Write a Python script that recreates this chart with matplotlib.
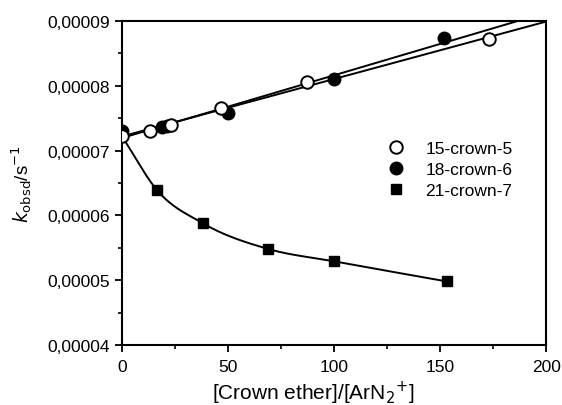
import numpy as np
import matplotlib.pyplot as plt
from matplotlib.ticker import FuncFormatter, MultipleLocator

# values
crown5_x = [0, 13, 23, 46.5, 87, 173]
crown5_y = [7.22e-5, 7.30e-5, 7.40e-5, 7.65e-5, 8.05e-5, 8.72e-5]

crown6_x = [0, 19, 21, 50, 100, 152]
crown6_y = [7.30e-5, 7.37e-5, 7.38e-5, 7.58e-5, 8.10e-5, 8.74e-5]

crown7_x = [0, 16.5, 38, 69, 100, 153]
crown7_y = [7.22e-5, 6.39e-5, 5.88e-5, 5.48e-5, 5.29e-5, 4.98e-5]

x_ticks = [0, 50, 100, 150, 200]
y_ticks = [4e-5, 5e-5, 6e-5, 7e-5, 8e-5, 9e-5]

plt.rcParams['font.family'] = ['Liberation Sans', 'DejaVu Sans']

fig = plt.figure(figsize=(5.62, 4.06), dpi=100)
ax = fig.add_axes([0.217, 0.148, 0.755, 0.798])


def smooth(xs, ys, n=200):
    # hermite curve through the points
    xs = np.asarray(xs, float)
    ys = np.asarray(ys, float)
    m = np.gradient(ys, xs)
    out_x, out_y = [], []
    for i in range(len(xs) - 1):
        h = xs[i + 1] - xs[i]
        t = np.linspace(0, 1, n // len(xs))
        h00 = 2 * t**3 - 3 * t**2 + 1
        h10 = t**3 - 2 * t**2 + t
        h01 = -2 * t**3 + 3 * t**2
        h11 = t**3 - t**2
        out_x.extend(xs[i] + t * h)
        out_y.extend(h00 * ys[i] + h10 * h * m[i] + h01 * ys[i + 1] + h11 * h * m[i + 1])
    return out_x, out_y


# fitted lines for 15-crown-5 and 18-crown-6
lx = np.array([0, 200])
for xs, ys in [(crown5_x, crown5_y), (crown6_x, crown6_y)]:
    k, b = np.polyfit(xs, ys, 1)
    ax.plot(lx, k * lx + b, color='black', lw=1.4, zorder=2)

cx, cy = smooth(crown7_x, crown7_y)
ax.plot(cx, cy, color='black', lw=1.4, zorder=2)

ax.plot(crown7_x[1:], crown7_y[1:], 's', color='black', ms=6.5, ls='none',
        label='21-crown-7', zorder=3)
ax.plot(crown6_x, crown6_y, 'o', color='black', ms=9, ls='none',
        label='18-crown-6', zorder=4)
ax.plot(crown5_x, crown5_y, 'o', mfc='white', mec='black', mew=1.4, ms=9,
        ls='none', label='15-crown-5', zorder=5)

ax.set_xlim(0, 200)
ax.set_ylim(4e-5, 9e-5)
ax.set_xticks(x_ticks)
ax.set_yticks(y_ticks)
ax.xaxis.set_minor_locator(MultipleLocator(25))
ax.yaxis.set_minor_locator(MultipleLocator(5e-6))
ax.yaxis.set_major_formatter(FuncFormatter(lambda v, p: f"{v:.5f}".replace('.', ',')))
ax.tick_params(which='major', direction='out', length=5, width=1.3, labelsize=12.5)
ax.tick_params(axis='x', which='major', pad=5)
ax.tick_params(which='minor', direction='out', length=3, width=1.2)
for s in ax.spines.values():
    s.set_linewidth(1.5)

ax.set_xlabel('[Crown ether]/[ArN$_2$$^{+}$]', fontsize=15, labelpad=3)
ax.xaxis.set_label_coords(0.45, -0.105)
ax.set_ylabel('$k_{\\mathrm{obsd}}$/s$^{-1}$', fontsize=13.5, labelpad=10)

h, l = ax.get_legend_handles_labels()
ax.legend(h[::-1], l[::-1], loc='center right', bbox_to_anchor=(0.958, 0.542),
          frameon=False, fontsize=12.5, handletextpad=1.2, handlelength=1.0,
          labelspacing=0.35)

fig.savefig('out.png', dpi=100)
